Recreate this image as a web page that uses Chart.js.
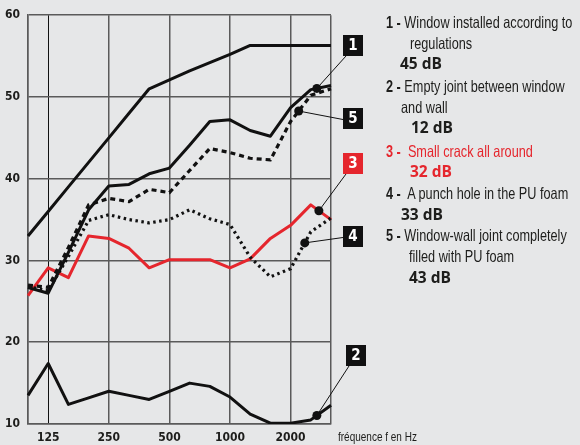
<!DOCTYPE html>
<html>
<head>
<meta charset="utf-8">
<script src="https://cdn.jsdelivr.net/npm/chart.js@4/dist/chart.umd.min.js"></script>
<style>
  html, body { margin: 0; padding: 0; background: #e6e7e8; }
  #wrap { position: relative; width: 580px; height: 445px; overflow: hidden; }
  #chart { position: absolute; left: 0; top: 0; }
  .leg { position: absolute; font-family: 'Liberation Sans', Arial, sans-serif;
         font-size: 16.5px; line-height: 20px; color: #1d1d1b; white-space: nowrap;
         transform: scaleX(0.77); transform-origin: left center; }
  .leg b { font-weight: 700; }
  .db { font-family: 'Open Sans', 'Liberation Sans', sans-serif; font-weight: 700; font-size: 15.5px; transform: none; }
  .red { color: #e5262d; }
  #xtitle { position: absolute; left: 338px; top: 430px; font-family: 'Liberation Sans', Arial, sans-serif;
            font-size: 12.5px; color: #1d1d1b; white-space: nowrap; transform: scaleX(0.8); transform-origin: left center; }
</style>
</head>
<body>
<div id="wrap">
  <canvas id="chart" width="580" height="445"></canvas>
  <div class="leg" style="left:386px;top:12px"><b>1 -</b> Window installed according to</div>
  <div class="leg" style="left:410px;top:33px">regulations</div>
  <div class="leg db" style="left:400px;top:53px">45 dB</div>
  <div class="leg" style="left:386px;top:76px"><b>2 -</b> Empty joint between window</div>
  <div class="leg" style="left:401px;top:97px">and wall</div>
  <div class="leg db" style="left:411px;top:117px">12 dB</div>
  <div class="leg red" style="left:386px;top:141px"><b>3 -</b>&nbsp; Small crack all around</div>
  <div class="leg db red" style="left:410px;top:161px">32 dB</div>
  <div class="leg" style="left:386px;top:183px"><b>4 -</b>&nbsp; A punch hole in the PU foam</div>
  <div class="leg db" style="left:401px;top:204px">33 dB</div>
  <div class="leg" style="left:386px;top:225px"><b>5 -</b> Window-wall joint completely</div>
  <div class="leg" style="left:409px;top:246px">filled with PU foam</div>
  <div class="leg db" style="left:409px;top:267px">43 dB</div>
  <div id="xtitle">fréquence f en Hz</div>
</div>
<script>
// third-octave bands, 100 Hz to 3150 Hz
const freqLabels = ['100', '125', '160', '200', '250', '315', '400', '500', '630', '800', '1000', '1250', '1600', '2000', '2500', '3150'];
const shownFreqs = ['125', '250', '500', '1000', '2000'];
const yTicks = [10, 20, 30, 40, 50, 60];

// sound reduction index R (dB) per band
const refCurve = [33.0, 36.0, 39.0, 42.0, 45.0, 48.0, 51.0, 52.1, 53.2, 54.2, 55.2, 56.3, 56.3, 56.3, 56.3, 56.3];
const curve1 = [26.7, 26.0, 31.0, 36.2, 39.1, 39.3, 40.6, 41.3, 44.1, 47.0, 47.2, 45.9, 45.2, 48.7, 50.9, 51.4];
const curve2 = [13.5, 17.4, 12.4, 13.2, 14.0, 13.5, 13.0, 14.0, 15.0, 14.6, 13.3, 11.2, 10.1, 10.1, 10.5, 12.3];
const curve3 = [25.7, 29.1, 27.9, 33.0, 32.7, 31.5, 29.1, 30.1, 30.1, 30.1, 29.1, 30.2, 32.7, 34.3, 36.8, 35.0];
const curve4 = [26.8, 26.3, 30.5, 34.9, 35.6, 35.0, 34.6, 35.0, 36.2, 35.1, 34.4, 30.4, 28.0, 29.0, 33.5, 35.2];
const curve5 = [27.0, 26.7, 31.6, 36.8, 37.6, 37.2, 38.7, 38.3, 41.0, 43.7, 43.2, 42.5, 42.3, 47.0, 50.2, 51.0];

const RED = '#e5262d';
const INK = '#111111';
const GRID = '#5a5a5a';
const TICK_FONT = { family: "'Liberation Sans Narrow', 'DejaVu Sans Condensed', sans-serif", size: 12, weight: 'bold' };

// numbered call-outs: which curve, where along it (band index), box top-left
const callouts = [
    { num: '1', curve: 'c1', at: 14.3, box: [343, 35], fill: INK },
    { num: '5', curve: 'c5', at: 13.4, box: [343, 108], fill: INK },
    { num: '3', curve: 'c3', at: 14.4, box: [343, 153], fill: RED },
    { num: '4', curve: 'c4', at: 13.7, box: [343, 226], fill: INK },
    { num: '2', curve: 'c2', at: 14.3, box: [346, 345], fill: INK }
];

const calloutPlugin = {
    id: 'callouts',
    afterDatasetsDraw(chart) {
        const ctx = chart.ctx;
        const xs = chart.scales.x, ys = chart.scales.y;
        callouts.forEach(c => {
            const data = chart.data.datasets.find(d => d.label === c.curve).data;
            const i = Math.floor(c.at), f = c.at - i;
            const v = data[i] + (data[i + 1] - data[i]) * f;
            const px = xs.getPixelForValue(c.at), py = ys.getPixelForValue(v);
            const w = 20, h = 21;
            const bx = c.box[0], by = c.box[1];
            // leader line to the box edge facing the dot
            let tx = bx, ty = by + h / 2 + 1;
            if (py > by + h + 8) { tx = bx + 3; ty = by + h; }
            else if (py < by - 8) { tx = bx + 3; ty = by; }
            ctx.save();
            ctx.strokeStyle = INK;
            ctx.lineWidth = 1;
            ctx.beginPath();
            ctx.moveTo(px, py);
            ctx.lineTo(tx, ty);
            ctx.stroke();
            ctx.fillStyle = INK;
            ctx.beginPath();
            ctx.arc(px, py, 4.5, 0, Math.PI * 2);
            ctx.fill();
            ctx.fillStyle = c.fill;
            ctx.fillRect(bx, by, w, h);
            ctx.fillStyle = '#ffffff';
            ctx.font = "bold 15px 'Liberation Sans Narrow', 'DejaVu Sans Condensed', sans-serif";
            ctx.textAlign = 'center';
            ctx.textBaseline = 'middle';
            ctx.fillText(c.num, bx + w / 2, by + h / 2 + 1);
            ctx.restore();
        });
    }
};

function line(id, data, color, dash, width) {
    return {
        label: id,
        data: data,
        borderColor: color,
        borderWidth: width,
        borderDash: dash,
        borderCapStyle: 'butt',
        borderJoinStyle: 'round',
        pointRadius: 0,
        tension: 0,
        fill: false
    };
}

const lastIdx = freqLabels.length - 1;

new Chart(document.getElementById('chart'), {
    type: 'line',
    data: {
        labels: freqLabels,
        datasets: [
            line('ref', refCurve, INK, [], 3),
            line('c1', curve1, INK, [], 3),
            line('c2', curve2, INK, [], 3),
            line('c4', curve4, INK, [2.5, 3.5], 3.2),
            line('c5', curve5, INK, [5, 4], 3.2),
            line('c3', curve3, RED, [], 3)
        ]
    },
    options: {
        responsive: false,
        animation: false,
        layout: { padding: { top: 14, right: 249, left: 0, bottom: 0 } },
        plugins: { legend: { display: false }, tooltip: { enabled: false } },
        scales: {
            x: {
                type: 'category',
                offset: false,
                afterFit: s => { s.height = 21; },
                border: { display: true, color: GRID, width: 1.5 },
                grid: {
                    drawTicks: false,
                    color: c => {
                        const lab = freqLabels[c.index];
                        if (lab === '125') return INK;
                        if (shownFreqs.includes(lab) || c.index === 0 || c.index === lastIdx) return GRID;
                        return 'rgba(0,0,0,0)';
                    },
                    lineWidth: c => freqLabels[c.index] === '125' ? 1 : 1.5
                },
                ticks: {
                    autoSkip: false,
                    maxRotation: 0,
                    padding: 7,
                    color: '#1d1d1b',
                    font: TICK_FONT,
                    callback: (v, i) => shownFreqs.includes(freqLabels[i]) ? freqLabels[i] : ''
                }
            },
            y: {
                min: yTicks[0],
                max: yTicks[yTicks.length - 1],
                afterFit: s => { s.width = 28; },
                afterBuildTicks: s => { s.ticks = yTicks.map(v => ({ value: v })); },
                border: { display: true, color: GRID, width: 1.5 },
                grid: { drawTicks: false, color: GRID, lineWidth: 1.5 },
                ticks: { padding: 8, color: '#1d1d1b', font: TICK_FONT }
            }
        }
    },
    plugins: [calloutPlugin]
});
</script>
</body>
</html>
